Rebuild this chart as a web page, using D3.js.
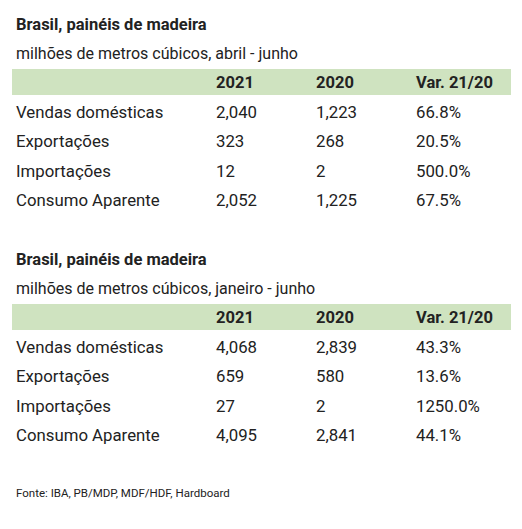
<!DOCTYPE html>
<html><head><meta charset="utf-8">
<script src="https://cdn.jsdelivr.net/npm/d3@7"></script>
<style>body{margin:0;background:#fff}</style>
</head><body>
<svg id="chart" width="522" height="529"></svg>
<script>
let columns = ["2021", "2020", "Var. 21/20"];
let rowLabels = ["Vendas domésticas", "Exportações", "Importações", "Consumo Aparente"];
let q2Values = [["2,040", "1,223", "66.8%"], ["323", "268", "20.5%"], ["12", "2", "500.0%"], ["2,052", "1,225", "67.5%"]];
let h1Values = [["4,068", "2,839", "43.3%"], ["659", "580", "13.6%"], ["27", "2", "1250.0%"], ["4,095", "2,841", "44.1%"]];

let canvas = d3.select("#chart");
let font = "Roboto, sans-serif";
let colX = d3.scaleOrdinal().domain(["label"].concat(columns)).range([16, 216, 316, 416]);

function drawTable(top, subtitle, values) {
    canvas.append("text")
        .attr("x", 16).attr("y", top)
        .attr("font-family", font).attr("font-weight", "bold")
        .attr("font-size", 16.5).attr("fill", "#222")
        .text("Brasil, painéis de madeira");
    canvas.append("text")
        .attr("x", 16).attr("y", top + 29)
        .attr("font-family", font).attr("font-size", 16).attr("fill", "#222")
        .text(subtitle);
    canvas.append("rect")
        .attr("x", 12).attr("y", top + 39)
        .attr("width", 499).attr("height", 26)
        .attr("fill", "#cfe3c0");
    canvas.selectAll(null).data(columns).enter()
        .append("text")
        .attr("x", d => colX(d)).attr("y", top + 58)
        .attr("font-family", font).attr("font-weight", "bold")
        .attr("font-size", 16.5).attr("fill", "#222")
        .text(d => d);
    let y = d3.scaleBand().domain(rowLabels).range([top + 67, top + 67 + 4 * 29.5]);
    rowLabels.forEach((r, i) => {
        let cells = [r].concat(values[i]);
        canvas.selectAll(null).data(cells).enter()
            .append("text")
            .attr("x", (d, j) => colX(j == 0 ? "label" : columns[j - 1]))
            .attr("y", y(r) + y.bandwidth() / 2 + 6)
            .attr("font-family", font).attr("font-size", 16.8).attr("fill", "#222")
            .text(d => d);
    });
}

drawTable(30, "milhões de metros cúbicos, abril - junho", q2Values);
drawTable(265, "milhões de metros cúbicos, janeiro - junho", h1Values);

canvas.append("text")
    .attr("x", 16).attr("y", 497)
    .attr("font-family", font).attr("font-size", 11.5).attr("fill", "#222")
    .text("Fonte: IBA, PB/MDP, MDF/HDF, Hardboard");
</script>
</body></html>
